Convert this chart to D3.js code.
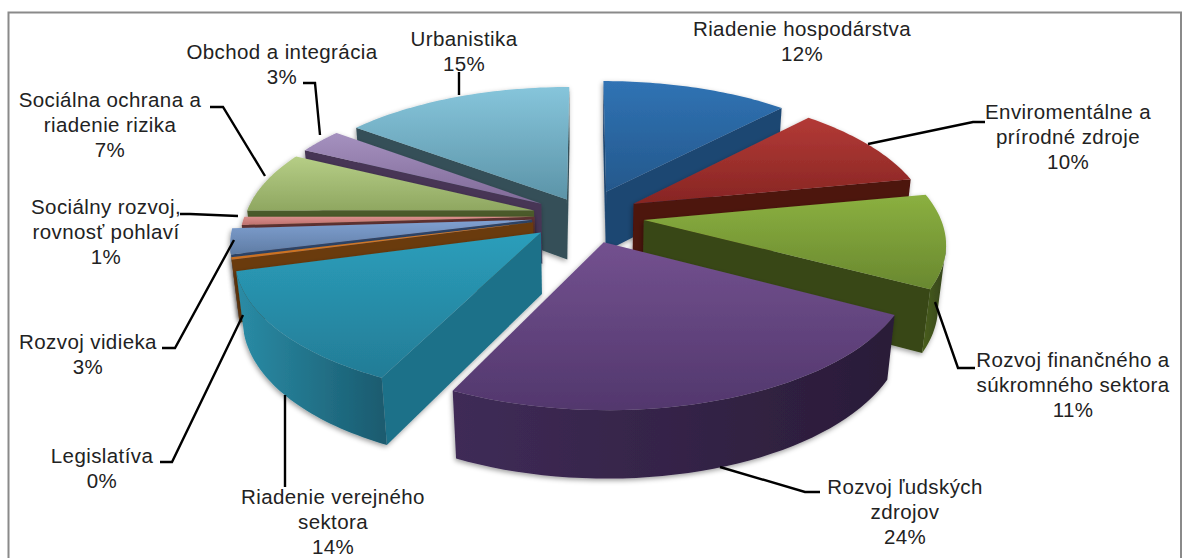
<!DOCTYPE html>
<html>
<head>
<meta charset="utf-8">
<script src="https://d3js.org/d3.v7.min.js"></script>
<style>
  body { margin: 0; background: #fff; }
  text { font-family: "Liberation Sans", Arial, sans-serif; font-size: 20.5px; letter-spacing: 0.4px; fill: #222; }
</style>
</head>
<body>
<div id="chart-area"></div>
<script>
//============================DATA============================
var categories = ["Riadenie hospodárstva", "Enviromentálne a prírodné zdroje", "Rozvoj finančného a súkromného sektora",
    "Rozvoj ľudských zdrojov", "Riadenie verejného sektora", "Legislatíva", "Rozvoj vidieka",
    "Sociálny rozvoj, rovnosť pohlaví", "Sociálna ochrana a riadenie rizika", "Obchod a integrácia", "Urbanistika"];
var values = [12, 10, 11, 24.4, 13.6, 0.3, 3, 1, 7.4, 3, 14.7];

//============================LAYOUT============================
var width = 1182, height = 558;

// how the text of each label wraps, and where it goes
var labelLines = [
    ["Riadenie hospodárstva"],
    ["Enviromentálne a", "prírodné zdroje"],
    ["Rozvoj finančného a", "súkromného sektora"],
    ["Rozvoj ľudských", "zdrojov"],
    ["Riadenie verejného", "sektora"],
    ["Legislatíva"],
    ["Rozvoj vidieka"],
    ["Sociálny rozvoj,", "rovnosť pohlaví"],
    ["Sociálna ochrana a", "riadenie rizika"],
    ["Obchod a integrácia"],
    ["Urbanistika"]
];
var labelX = [802, 1068, 1073, 905, 333, 102, 88, 106, 110, 282, 464];
var labelY = [36, 119, 367, 494, 504, 463, 349, 214, 107, 59, 46];
var lineGap = 25;
var leaders = [
    null,
    [[985, 122], [973, 122], [868, 144]],
    [[975, 368], [958, 368], [935, 302]],
    [[820, 492], [805, 492], [720, 467]],
    [[285, 487], [285, 395]],
    [[160, 462], [172, 462], [243, 315]],
    [[162, 348], [175, 348], [234, 240]],
    [[180, 214], [190, 214], [238, 216]],
    [[210, 107], [223, 107], [265, 176]],
    [[303, 83], [315, 83], [320, 135]],
    [[459, 72], [459, 95]]
];

// top gradient start/end, flat wall, curved wall left/right
var topColors = [["#3073b4", "#24588c"], ["#b33a36", "#872523"], ["#8bb040", "#69882f"], ["#73518f", "#52376d"],
    ["#2b9ebb", "#237c96"], ["#d9812f", "#c96f20"], ["#80a1d2", "#5f7ca4"], ["#da8f8c", "#bf716e"],
    ["#b6ce86", "#8fa761"], ["#a591bf", "#806a98"], ["#86c5db", "#5c94a8"]];
var wallColors = ["#1f4672", "#4d1210", "#384717", "#3a2850", "#1e7189", "#6b3a0f", "#2d4468", "#5f3333", "#4b5a2c", "#463654", "#345058"];
var arcColors = [["#2a5d94", "#1f4672"], ["#6a1a17", "#4d1210"], ["#4a5f1e", "#34431a"], ["#3f2b57", "#2a1c38"],
    ["#2a8ca6", "#1a5a6e"], ["#7c4312", "#6b3a0f"], ["#3e5a8a", "#2d4468"], ["#7a4343", "#5f3333"],
    ["#5d6f37", "#4b5a2c"], ["#5a466c", "#463654"], ["#44707f", "#345058"]];
var explode = [0.2, 0.19, 0.2, 0.2, 0.19, 0.18, 0.18, 0.17, 0.178, 0.176, 0.14];
var radius = [1, 1, 1, 1, 1, 1, 1, 0.98, 0.975, 0.975, 1];

// perspective of the pie: unit disk, viewer towards +v
var cx = 585, cy = 216, scaleX = 296, scaleY = 134, persp = 0.15, wallHeight = 62, wallDepth = 0.022;

function project(u, v, bottom) {
    var w = 1 - persp * v + (bottom ? wallDepth : 0);
    return [cx + scaleX * u / w, cy + (scaleY * v + (bottom ? wallHeight : 0)) / w];
}

//============================CHART============================
var svg = d3.select("#chart-area").append("svg")
    .attr("width", width)
    .attr("height", height)
    .style("display", "block");

var defs = svg.append("defs");

var shadow = defs.append("filter").attr("id", "soft-shadow")
    .attr("x", "-10%").attr("y", "-10%").attr("width", "120%").attr("height", "120%");
shadow.append("feDropShadow")
    .attr("dx", -1).attr("dy", 2).attr("stdDeviation", 2.5)
    .attr("flood-color", "#000").attr("flood-opacity", 0.38);

function gradient(id, colors, horizontal) {
    var g = defs.append("linearGradient").attr("id", id)
        .attr("x1", 0).attr("y1", 0)
        .attr("x2", horizontal ? 1 : 0).attr("y2", horizontal ? 0 : 1);
    g.append("stop").attr("offset", "0%").attr("stop-color", colors[0]);
    g.append("stop").attr("offset", "100%").attr("stop-color", colors[1]);
}
topColors.forEach(function(c, i) { gradient("top-" + i, c, false); });
arcColors.forEach(function(c, i) { gradient("arc-" + i, c, true); });

// frame, open past the bottom of the picture
svg.append("path")
    .attr("d", "M8.5,558V12.5H1181V558")
    .attr("fill", "none")
    .attr("stroke", "#8a8a8a")
    .attr("stroke-width", 2);

var total = d3.sum(values);
var percent = d3.format(".0%");
var line = d3.line();
var closedPath = function(pts) { return line(pts) + "Z"; };

var arcs = d3.pie().sort(null)(values).map(function(d) {
    d.mid = (d.startAngle + d.endAngle) / 2;
    d.ox = explode[d.index] * Math.sin(d.mid);
    d.oy = -explode[d.index] * Math.cos(d.mid);
    d.r = radius[d.index];
    return d;
});

// point of a slice at angle a and radius r
function slicePoint(d, a, r, bottom) {
    return project(d.ox + r * Math.sin(a), d.oy - r * Math.cos(a), bottom);
}

// a wall is shown only if the outward normal points to the viewer
function faces(u, v, nu, nv) {
    return nu * (0 - u) + nv * (1 / persp - v) > 0;
}

var slices = svg.append("g").selectAll("g.slice")
    .data(arcs.slice().sort(function(a, b) { return -Math.cos(a.mid) + Math.cos(b.mid); }))
    .enter().append("g")
    .attr("class", "slice")
    .attr("filter", "url(#soft-shadow)");

slices.each(function(d) {
    var g = d3.select(this);
    var i = d.index;

    // flat walls
    [[d.startAngle, -1], [d.endAngle, 1]].forEach(function(e) {
        var a = e[0], nu = e[1] * Math.cos(a), nv = e[1] * Math.sin(a);
        if (!faces(d.ox + 0.5 * Math.sin(a), d.oy - 0.5 * Math.cos(a), nu, nv)) return;
        g.append("path")
            .attr("d", closedPath([slicePoint(d, a, 0, false), slicePoint(d, a, d.r, false),
                slicePoint(d, a, d.r, true), slicePoint(d, a, 0, true)]))
            .attr("fill", wallColors[i]);
    });

    // curved wall
    var steps = d3.range(0, 41).map(function(k) { return d.startAngle + (d.endAngle - d.startAngle) * k / 40; });
    var seen = steps.filter(function(a) {
        return faces(d.ox + d.r * Math.sin(a), d.oy - d.r * Math.cos(a), Math.sin(a), -Math.cos(a));
    });
    if (seen.length > 1) {
        var topEdge = seen.map(function(a) { return slicePoint(d, a, d.r, false); });
        var lowEdge = seen.map(function(a) { return slicePoint(d, a, d.r, true); }).reverse();
        g.append("path")
            .attr("d", closedPath(topEdge.concat(lowEdge)))
            .attr("fill", "url(#arc-" + i + ")");
    }

    // top
    var rim = steps.map(function(a) { return slicePoint(d, a, d.r, false); });
    g.append("path")
        .attr("d", closedPath([slicePoint(d, 0, 0, false)].concat(rim)))
        .attr("fill", "url(#top-" + i + ")");
});

//============================LABELS============================
svg.append("g").selectAll("path")
    .data(leaders.filter(Boolean))
    .enter().append("path")
    .attr("d", function(d) { return line(d); })
    .attr("fill", "none")
    .attr("stroke", "#000")
    .attr("stroke-width", 2.4);

var labels = svg.append("g").selectAll("text")
    .data(categories)
    .enter().append("text")
    .attr("text-anchor", "middle")
    .attr("x", function(d, i) { return labelX[i]; })
    .attr("y", function(d, i) { return labelY[i]; });

labels.each(function(d, i) {
    var lines = labelLines[i].concat(percent(values[i] / total));
    d3.select(this).selectAll("tspan")
        .data(lines)
        .enter().append("tspan")
        .attr("x", labelX[i])
        .attr("dy", function(t, k) { return k ? lineGap : 0; })
        .text(function(t) { return t; });
});
</script>
</body>
</html>
